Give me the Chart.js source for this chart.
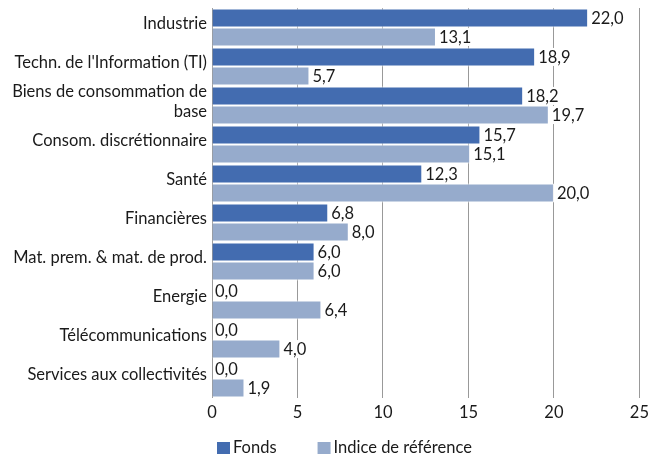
<!DOCTYPE html>
<html><head><meta charset="utf-8">
<script src="https://cdn.jsdelivr.net/npm/chart.js@4/dist/chart.umd.min.js"></script>
<style>html,body{margin:0;padding:0;background:#fff}#wrap{width:654px;height:459px}</style>
</head><body><div id="wrap"><canvas id="c"></canvas></div>
<script>
const categories = ["Industrie","Techn. de l'Information (TI)",["Biens de consommation de","base"],"Consom. discrétionnaire","Santé","Financières","Mat. prem. & mat. de prod.","Energie","Télécommunications","Services aux collectivités"];
const fonds = [22.0,18.9,18.2,15.7,12.3,6.8,6.0,0.0,0.0,0.0];
const indice = [13.1,5.7,19.7,15.1,20.0,8.0,6.0,6.4,4.0,1.9];
const seriesNames = ["Fonds","Indice de référence"];
const FONT = "Lato, 'Open Sans', sans-serif";
const FS = 16.5;

const labelPlugin = {
  id:'vlabels',
  afterDatasetsDraw(chart){
    const ctx = chart.ctx;
    ctx.save();
    ctx.font = FS + "px " + FONT;
    ctx.textBaseline = 'middle';
    chart.data.datasets.forEach((ds,di)=>{
      const meta = chart.getDatasetMeta(di);
      meta.data.forEach((bar,i)=>{
        const txt = ds.data[i].toFixed(1).replace('.',',');
        const w = ctx.measureText(txt).width;
        const x = bar.x + 1;
        ctx.fillStyle = '#fff';
        ctx.fillRect(x, bar.y - 9, w + 4, 18);
        ctx.fillStyle = '#1a1a1a';
        ctx.fillText(txt, x + 2, bar.y + 1);
      });
    });
    ctx.restore();
  }
};

const legendPlugin = {
  id:'customLegend',
  afterDraw(chart){
    const ctx = chart.ctx;
    ctx.save();
    ctx.font = FS + "px " + FONT;
    ctx.textBaseline = 'middle';
    const cy = 448;
    let x = chart.chartArea.left + 5;
    chart.data.datasets.forEach((ds,i)=>{
      ctx.fillStyle = ds.backgroundColor;
      ctx.fillRect(x, cy - 6, 13, 12);
      ctx.fillStyle = '#1a1a1a';
      ctx.fillText(ds.label, x + 16, cy);
      x += 16 + ctx.measureText(ds.label).width + 41;
    });
    ctx.restore();
  }
};

new Chart(document.getElementById('c'),{
  type:'bar',
  data:{labels:categories,datasets:[
    {label:seriesNames[0],data:fonds,backgroundColor:'#436cb0',borderColor:'#fff',borderWidth:1,categoryPercentage:0.98,barPercentage:1},
    {label:seriesNames[1],data:indice,backgroundColor:'#96abcc',borderColor:'#fff',borderWidth:1,categoryPercentage:0.98,barPercentage:1}
  ]},
  options:{
    indexAxis:'y',responsive:true,maintainAspectRatio:false,animation:false,
    layout:{padding:{top:8,right:12,left:0,bottom:0}},
    plugins:{
      legend:{display:false},
      tooltip:{enabled:false}
    },
    scales:{
      x:{min:0,max:25,ticks:{stepSize:5,color:'#1a1a1a',font:{family:FONT,size:FS},padding:5},
         grid:{color:'#999',drawTicks:false},border:{display:false},
         afterFit(s){s.height=61;}},
      y:{ticks:{color:'#1a1a1a',font:{family:FONT,size:FS},padding:5,autoSkip:false,labelOffset:-4},
         grid:{display:false,drawTicks:false},border:{display:false},
         afterFit(s){s.width=212;s.paddingTop=0;s.paddingBottom=0;}}
    }
  },
  plugins:[labelPlugin,legendPlugin]
});
</script></body></html>
